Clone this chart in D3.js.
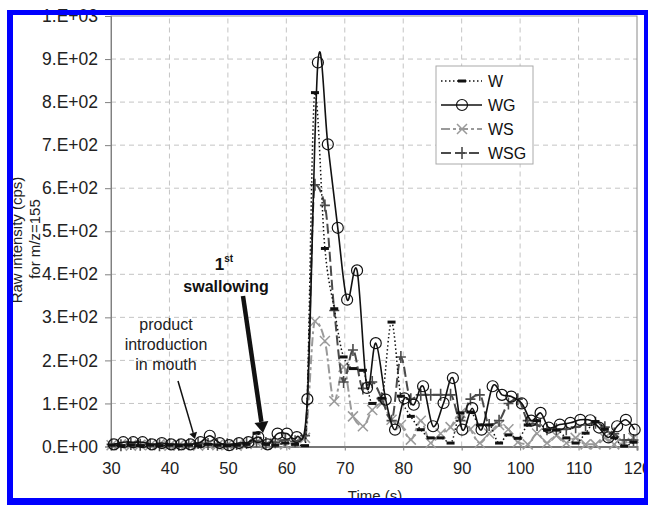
<!DOCTYPE html>
<html>
<head>
<meta charset="utf-8">
<script src="https://cdn.jsdelivr.net/npm/d3@7"></script>
<style>
  body { margin: 0; background: #fff; }
  svg { display: block; font-family: Arial, "Liberation Sans", sans-serif; }
</style>
</head>
<body>
<svg width="648" height="505"></svg>
<script>
// data
const timesW = [30.1, 31.7, 33.4, 35.0, 36.7, 38.3, 40.0, 41.6, 43.3, 44.9, 46.6, 48.2, 49.9, 51.5, 53.2, 54.9, 56.5, 58.1, 59.8, 61.5,
  63.2, 64.9, 66.6, 68.2, 69.8, 71.4, 73.1, 74.7, 76.3, 78.0, 79.6, 81.3, 83.0, 84.7, 86.4, 88.1, 89.8, 91.5, 93.1, 94.7,
  96.4, 98.0, 99.6, 101.3, 102.9, 104.6, 106.2, 107.9, 109.5, 111.2, 112.9, 114.5, 116.1, 117.8, 119.4];
const timesWG = [30.5, 32.1, 33.8, 35.4, 37.0, 38.7, 40.3, 42.0, 43.6, 45.3, 46.9, 48.6, 50.2, 51.9, 53.5, 55.2, 56.8, 58.5, 60.1, 61.8,
  63.6, 65.4, 67.1, 68.8, 70.4, 72.1, 73.8, 75.3, 77.0, 78.6, 80.2, 81.8, 83.4, 85.1, 86.9, 88.5, 90.1, 91.8, 93.4, 95.3,
  96.9, 98.5, 100.3, 101.9, 103.5, 104.9, 106.8, 108.6, 110.3, 112.0, 113.5, 115.1, 116.6, 118.1, 119.6];

const valuesW = [3, 2, 3, 2, 3, 2, 3, 2, 3, 2, 5, 3, 2, 3, 5, 31, 5, 3, 8, 5,
  2, 822, 460, 320, 208, 181, 177, 100, 112, 289, 117, 70, 39, 20, 20, 8, 78, 80, 50, 50,
  8, 27, 19, 50, 60, 38, 38, 20, 8, 31, 58, 40, 20, 1, 10];
const valuesWG = [5, 10, 10, 10, 5, 8, 5, 5, 5, 10, 25, 8, 3, 8, 10, 22, 5, 30, 30, 22,
  110, 892, 702, 508, 341, 409, 136, 240, 109, 39, 112, 97, 140, 47, 101, 159, 39, 89, 39, 140,
  120, 116, 100, 60, 78, 44, 51, 55, 62, 61, 44, 21, 47, 62, 39];
const valuesWS = [3, 5, 2, 4, 3, 5, 2, 3, 4, 2, 5, 3, 4, 2, 6, 10, 4, 8, 5, 10,
  20, 291, 245, 105, 185, 70, 47, 85, 100, 62, 50, 16, 60, 8, 30, 45, 78, 40, 8, 30,
  50, 40, 10, 5, 30, 8, 25, 8, 20, 5, 5, 20, 5, 8, 20];
const valuesWSG = [5, 3, 6, 4, 5, 3, 6, 4, 5, 8, 6, 4, 5, 6, 8, 12, 8, 10, 15, 12,
  25, 608, 560, 316, 150, 224, 135, 150, 112, 60, 208, 110, 120, 120, 120, 120, 60, 110, 120, 50,
  60, 100, 110, 60, 50, 40, 40, 40, 45, 50, 55, 45, 30, 15, 15];

const seriesNames = ['W', 'WG', 'WS', 'WSG'];
const xTicks = [30, 40, 50, 60, 70, 80, 90, 100, 110, 120];
const yTicks = [0, 100, 200, 300, 400, 500, 600, 700, 800, 900, 1000];
const yTickLabels = ['0.E+00', '1.E+02', '2.E+02', '3.E+02', '4.E+02', '5.E+02', '6.E+02', '7.E+02', '8.E+02', '9.E+02', '1.E+03'];

const svg = d3.select('svg');

const x = d3.scaleLinear().domain([30, 120]).range([111, 637]);
const y = d3.scaleLinear().domain([0, 1000]).range([446.5, 16]);

// gridlines
svg.append('g').selectAll('line')
  .data(yTicks.slice(1, -1))
  .join('line')
  .attr('x1', x(30)).attr('x2', x(120))
  .attr('y1', d => y(d)).attr('y2', d => y(d))
  .attr('stroke', '#c4c4c4').attr('stroke-dasharray', '5,4');

svg.append('g').selectAll('line')
  .data(xTicks.slice(1, -1))
  .join('line')
  .attr('x1', d => x(d)).attr('x2', d => x(d))
  .attr('y1', y(0)).attr('y2', y(1000))
  .attr('stroke', '#c4c4c4').attr('stroke-dasharray', '5,4');

// plot frame
svg.append('rect')
  .attr('x', x(30)).attr('y', y(1000))
  .attr('width', x(120) - x(30)).attr('height', y(0) - y(1000))
  .attr('fill', 'none').attr('stroke', '#8a8a8a');

// y axis
const yAxis = d3.axisLeft(y).tickValues(yTicks).tickSize(6).tickPadding(7)
  .tickFormat((d, i) => yTickLabels[i]);
svg.append('g')
  .attr('transform', `translate(${x(30)},0)`)
  .call(yAxis)
  .call(g => g.select('.domain').attr('stroke', '#808080'))
  .call(g => g.selectAll('.tick line').attr('stroke', '#808080'))
  .call(g => g.selectAll('text').attr('font-size', 17.5).attr('fill', '#222').attr('font-family', 'Arial, Liberation Sans'));

// x axis
const xAxis = d3.axisBottom(x).tickValues(xTicks).tickSize(4).tickPadding(12);
svg.append('g')
  .attr('transform', `translate(0,${y(0)})`)
  .call(xAxis)
  .call(g => g.select('.domain').attr('stroke', '#777').attr('stroke-width', 2))
  .call(g => g.selectAll('.tick line').attr('stroke', '#808080'))
  .call(g => g.selectAll('text').attr('font-size', 16.5).attr('fill', '#222').attr('font-family', 'Arial, Liberation Sans'));

// series
const makeData = (ts, vs) => ts.map((t, i) => ({ t: t, v: vs[i] }));
const dataW = makeData(timesW, valuesW);
const dataWG = makeData(timesWG, valuesWG);
const dataWS = makeData(timesW, valuesWS);
const dataWSG = makeData(timesW, valuesWSG);

const smooth = d3.line()
  .x(d => x(d.t))
  .y(d => y(d.v))
  .curve(d3.curveCatmullRom.alpha(0));
const mono = d3.line()
  .x(d => x(d.t))
  .y(d => y(d.v))
  .curve(d3.curveMonotoneX);

const styles = {
  W: { color: '#111', width: 1.5, dash: '1.5,2.5', line: mono },
  WG: { color: '#111', width: 1.6, dash: null, line: smooth },
  WS: { color: '#9a9a9a', width: 2, dash: '9,3,3,3', line: mono },
  WSG: { color: '#4a4a4a', width: 2, dash: '10,4', line: mono }
};

function drawMarker(g, name, cx, cy) {
  const s = styles[name];
  if (name === 'W') {
    g.append('rect').attr('x', cx - 4).attr('y', cy - 1.5).attr('width', 8).attr('height', 3).attr('fill', s.color);
  } else if (name === 'WG') {
    g.append('circle').attr('cx', cx).attr('cy', cy).attr('r', 5.5)
      .attr('fill', 'none').attr('stroke', s.color).attr('stroke-width', 1.2);
  } else if (name === 'WS') {
    g.append('path').attr('d', `M${cx - 5},${cy - 5}L${cx + 5},${cy + 5}M${cx - 5},${cy + 5}L${cx + 5},${cy - 5}`)
      .attr('stroke', s.color).attr('stroke-width', 1.5);
  } else {
    g.append('path').attr('d', `M${cx - 5},${cy}L${cx + 5},${cy}M${cx},${cy - 6}L${cx},${cy + 6}`)
      .attr('stroke', s.color).attr('stroke-width', 1.6);
  }
}

const allSeries = [
  { name: 'WS', data: dataWS },
  { name: 'WSG', data: dataWSG },
  { name: 'W', data: dataW },
  { name: 'WG', data: dataWG }
];

allSeries.forEach(s => {
  const st = styles[s.name];
  const g = svg.append('g');
  g.append('path')
    .datum(s.data)
    .attr('d', st.line)
    .attr('fill', 'none')
    .attr('stroke', st.color)
    .attr('stroke-width', st.width)
    .attr('stroke-dasharray', st.dash);
  s.data.forEach(d => drawMarker(g, s.name, x(d.t), y(d.v)));
});

// legend
const legend = svg.append('g');
legend.append('rect')
  .attr('x', 436).attr('y', 66).attr('width', 97).attr('height', 98)
  .attr('fill', '#fff').attr('stroke', '#aaa');
seriesNames.forEach((name, i) => {
  const ly = 81 + i * 24;
  const st = styles[name];
  legend.append('line')
    .attr('x1', 441).attr('x2', 482).attr('y1', ly).attr('y2', ly)
    .attr('stroke', st.color).attr('stroke-width', st.width)
    .attr('stroke-dasharray', st.dash);
  drawMarker(legend, name, 462, ly);
  legend.append('text')
    .attr('x', 488).attr('y', ly + 6)
    .attr('font-size', 16).attr('fill', '#111')
    .text(name);
});

// axis titles
svg.append('text')
  .attr('transform', 'translate(375,501)')
  .attr('text-anchor', 'middle').attr('font-size', 15).attr('fill', '#222')
  .text('Time (s)');
svg.append('text')
  .attr('transform', 'translate(22,240) rotate(-90)')
  .attr('text-anchor', 'middle').attr('font-size', 15).attr('fill', '#222')
  .text('Raw intensity (cps)');
svg.append('text')
  .attr('transform', 'translate(40,239) rotate(-90)')
  .attr('text-anchor', 'middle').attr('font-size', 15).attr('fill', '#222')
  .text('for m/z=155');

// annotations
const note = svg.append('g').attr('fill', '#222').attr('text-anchor', 'middle').attr('font-size', 16);
['product', 'introduction', 'in mouth'].forEach((t, i) => {
  note.append('text').attr('x', 166).attr('y', 330 + i * 20).text(t);
});
const first = svg.append('text').attr('x', 224).attr('y', 270).attr('text-anchor', 'middle')
  .attr('font-size', 17).attr('font-weight', 'bold').attr('fill', '#111');
first.append('tspan').text('1');
first.append('tspan').attr('font-size', 10).attr('dy', -8).text('st');
svg.append('text').attr('x', 226).attr('y', 292).attr('text-anchor', 'middle')
  .attr('font-size', 16).attr('font-weight', 'bold').attr('fill', '#111')
  .text('swallowing');

function arrow(x1, y1, x2, y2, w, head) {
  const a = Math.atan2(y2 - y1, x2 - x1);
  const bx = x2 - head * 1.6 * Math.cos(a), by = y2 - head * 1.6 * Math.sin(a);
  svg.append('line').attr('x1', x1).attr('y1', y1).attr('x2', bx).attr('y2', by)
    .attr('stroke', '#111').attr('stroke-width', w);
  const px = -Math.sin(a) * head, py = Math.cos(a) * head;
  svg.append('path')
    .attr('d', `M${x2},${y2}L${bx + px},${by + py}L${bx - px},${by - py}Z`)
    .attr('fill', '#111');
}
arrow(178, 381, 195, 439, 1.5, 4);
arrow(243, 296, 263, 433, 4.5, 7);

// blue outer frame
const frame = svg.append('g').attr('fill', '#0000ff');
frame.append('rect').attr('x', 7).attr('y', 10).attr('width', 641).attr('height', 5);
frame.append('rect').attr('x', 7).attr('y', 10).attr('width', 6).attr('height', 495);
frame.append('rect').attr('x', 7).attr('y', 498).attr('width', 641).attr('height', 7);
frame.append('rect').attr('x', 644).attr('y', 10).attr('width', 4).attr('height', 495);
</script>
</body>
</html>
